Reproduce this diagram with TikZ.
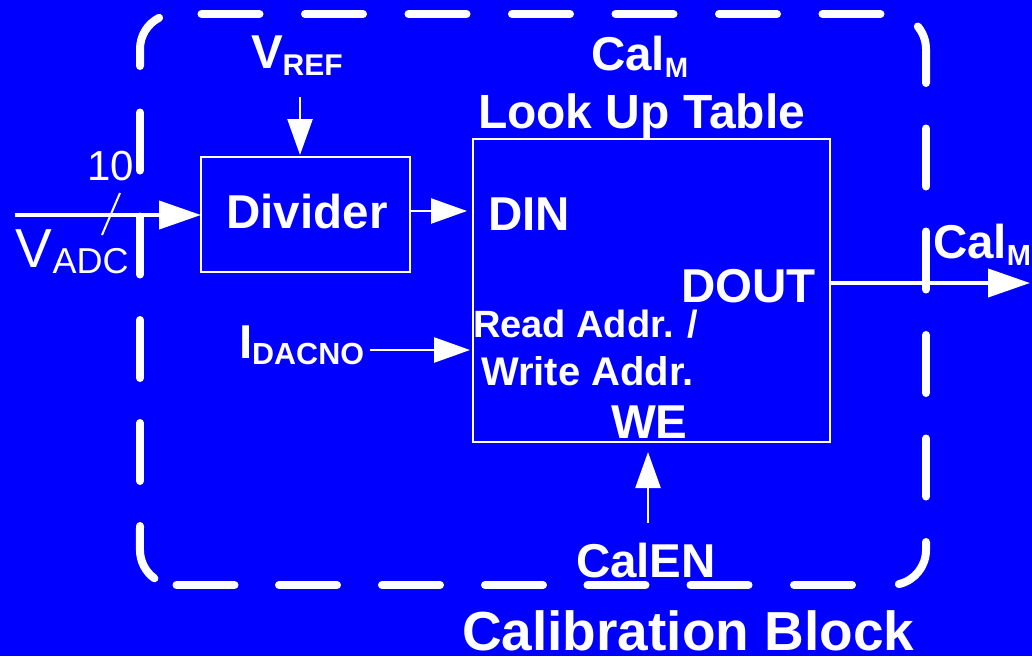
\documentclass[tikz,border=0pt]{standalone}
\usepackage{fontspec}
\setmainfont{Liberation Sans}
\usetikzlibrary{arrows.meta}
\definecolor{bg}{RGB}{0,0,255}
\newcommand\setfs[1]{\fontsize{#1}{#1}\selectfont}
\begin{document}
\begin{tikzpicture}[x=1pt,y=-1pt,
  every node/.style={text=white, inner sep=0pt, outer sep=0pt},
  lbl/.style={anchor=base west, font=\bfseries\setfs{47.5}},
  plain/.style={anchor=base west, font=\mdseries\setfs{42}},
  blockbox/.style={draw=white, line width=2.5pt, anchor=north west},
  border/.style={draw=white, line width=8pt, line cap=round},
  wire/.style={draw=white, line width=2.5pt},
  smallarrow/.style={wire, -{Triangle[length=36pt,width=25pt]}},
  busarrow/.style={draw=white, line width=4pt, -{Triangle[length=42pt,width=28pt]}}]

% background and page size
\fill[bg] (0,0) rectangle (1032,656);
\useasboundingbox (0,0) rectangle (1032,656);

% dashed outline of the calibration block
\foreach \c in {230.5,334,437.5,541,644.5,748,851.5}
  \draw[border] ({\c-29},14) -- ({\c+29},14);
\foreach \c in {205.5,308,411,514,616.5,719.5,823}
  \draw[border] ({\c-29},585) -- ({\c+29},585);
\foreach \c in {157.5,260.5,364,467.5}
  \draw[border] (926,{\c-29}) -- (926,{\c+29});
\foreach \c in {141.5,245.5,349,452}
  \draw[border] (140,{\c-29}) -- (140,{\c+29});
\draw[border] (140,66) -- (140,49) arc[start angle=180, end angle=243, radius=35];
\draw[border] (917.8,26.5) arc[start angle=320, end angle=360, radius=35] -- (926,83);
\draw[border] (926,542) -- (926,550) arc[start angle=0, end angle=77, radius=35];
\draw[border] (154.4,578.3) arc[start angle=126, end angle=180, radius=35] -- (140,526);

% blocks
\node[blockbox, minimum width=209pt, minimum height=115pt] (div) at (201,157) {};
\node[font=\bfseries\setfs{47.5}] (divtxt) at (307,212) {Divider};
\node[blockbox, minimum width=357pt, minimum height=303pt] (lut) at (473,139) {};

% labels
\node[lbl] (vref) at (251,68) {V\raisebox{-7pt}{\setfs{30}REF}};
\node[lbl] (caltop) at (591,70) {Cal\raisebox{-7pt}{\setfs{28}M}};
\node[lbl, font=\bfseries\setfs{48}] (luttitle) at (478,128) {Look Up Table};
\node[lbl] (din) at (488,230) {DIN};
\node[lbl] (dout) at (681,302) {DOUT};
\node[lbl, font=\bfseries\setfs{38}] (raddr) at (473,337) {Read Addr. /};
\node[lbl, font=\bfseries\setfs{40}] (waddr) at (481,385) {Write Addr.};
\node[lbl] (we) at (611,438) {WE};
\node[lbl] (idac) at (239,358) {I\raisebox{-6pt}{\setfs{30.5}DACNO}};
\node[lbl] (calen) at (576,577) {CalEN};
\node[lbl, font=\bfseries\setfs{55}] (cbtitle) at (462,650) {Calibration Block};
\node[lbl] (calout) at (933,258) {Cal\raisebox{-7pt}{\setfs{29}M}};
\node[plain] (buswidth) at (87,180) {10};
\node[plain, font=\mdseries\setfs{55}] (vadc) at (16,267) {V\raisebox{-6pt}{\setfs{36}ADC}};

% connectors
\coordinate (vin) at (15,215);
\draw[busarrow] (vin) -- (vin -| div.west);
\coordinate (sl1) at (102,235);
\coordinate (sl2) at (120,193);
\draw[wire, line width=2pt] (sl1) -- (sl2);

\coordinate (dinA) at (467,211);
\draw[smallarrow] (div.east |- dinA) -- (dinA);

\coordinate (vrA) at (300,97);
\draw[smallarrow, shorten >=2pt] (vrA) -- (vrA |- div.north);

\coordinate (idA) at (370,350);
\draw[smallarrow, shorten >=3pt] (idA) -- (idA -| lut.west);

\coordinate (enA) at (648,523);
\draw[smallarrow, shorten >=10pt] (enA) -- (enA |- lut.south);

\coordinate (outend) at (1030,283);
\draw[busarrow] (outend -| lut.east) -- (outend);
\end{tikzpicture}
\end{document}
